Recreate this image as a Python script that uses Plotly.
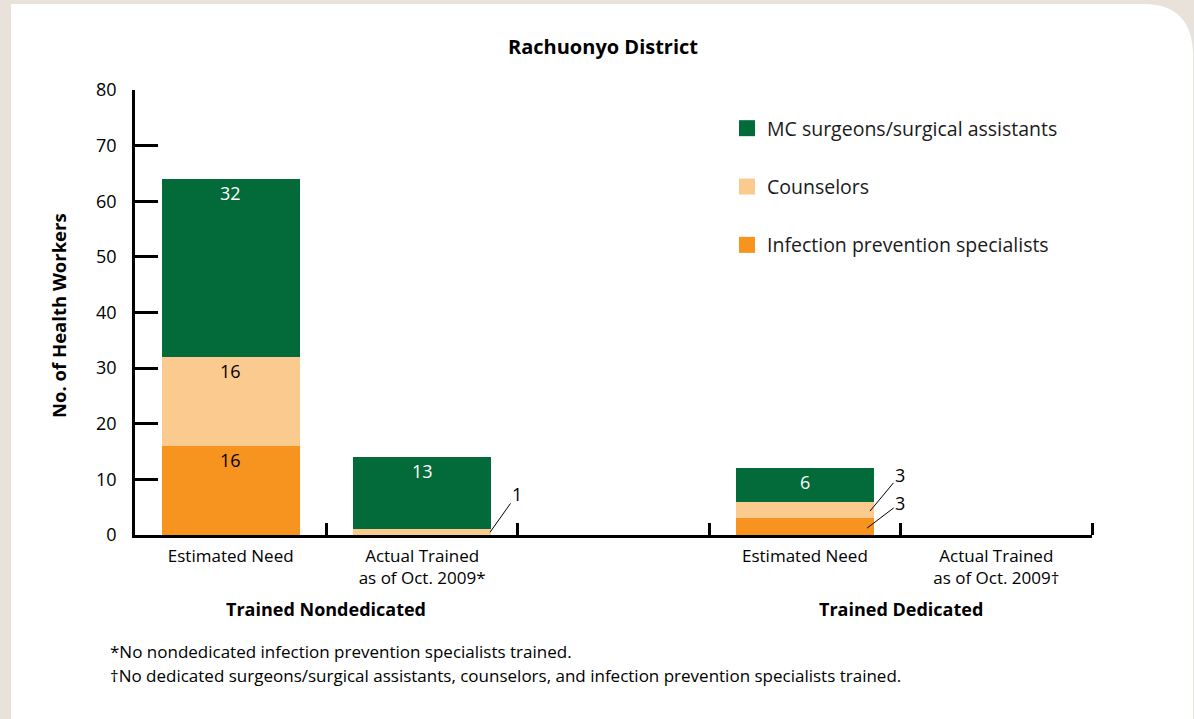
import plotly.graph_objects as go

# ---------------- data ----------------
categories = ["Estimated Need", "Actual Trained<br>as of Oct. 2009*", "",
              "Estimated Need", "Actual Trained<br>as of Oct. 2009\u2020"]
x_pos = [0, 1, 2, 3, 4]
infection_prevention = [16, 0, None, 3, 0]
counselors = [16, 1, None, 3, 0]
mc_surgeons = [32, 13, None, 6, 0]
series_names = ["Infection prevention specialists", "Counselors", "MC surgeons/surgical assistants"]
group_labels = ["Trained Nondedicated", "Trained Dedicated"]
group_centers = [0.5, 3.5]
title_text = "Rachuonyo District"
y_title = "No. of Health Workers"
y_ticks = [0, 10, 20, 30, 40, 50, 60, 70, 80]
footnotes = ["*No nondedicated infection prevention specialists trained.",
             "\u2020No dedicated surgeons/surgical assistants, counselors, and infection prevention specialists trained."]

# ---------------- style ----------------
C_MC = "#036a3a"
C_CO = "#fbca8f"
C_IP = "#f6941f"
BEIGE = "#e8e2db"
FONT = "Open Sans"

W, H = 1194, 719
L, R, T, B = 135, 1092, 90, 535


def px(x):
    return (x - L) / (R - L)


def py(y):
    return (B - y) / (B - T)


fig = go.Figure()
series = [infection_prevention, counselors, mc_surgeons]
colors = [C_IP, C_CO, C_MC]
for name, vals, col in zip(series_names, series, colors):
    fig.add_trace(go.Bar(x=x_pos, y=[v if v is not None else 0 for v in vals], name=name,
                         marker=dict(color=col, line=dict(width=0)), width=0.72,
                         showlegend=False, hoverinfo="skip"))

# legend entries (square markers)
ranks = [3, 2, 1]
for i, (name, col) in enumerate(zip(series_names, colors)):
    fig.add_trace(go.Scatter(x=[None], y=[None], mode="markers", name=name,
                             marker=dict(symbol="square", size=16, color=col),
                             legendgroup=name, legendrank=ranks[i], showlegend=True))

# in-bar labels
label_colors = ["black", "black", "white"]
for xi in x_pos:
    base = 0
    for vals, lc in zip(series, label_colors):
        v = vals[xi]
        if v is None:
            continue
        top = base + v
        if v >= 5:
            fig.add_annotation(x=xi, y=top, text=str(v), showarrow=False, yanchor="middle",
                               yshift=-14, font=dict(family=FONT, size=18, color=lc))
        base = top

# leader-line labels for small segments
fig.add_annotation(x=1.355, y=0.5, text=str(counselors[1]), showarrow=True, arrowhead=0,
                   arrowwidth=1, arrowcolor="black", ax=27, ay=-38, standoff=0,
                   font=dict(family=FONT, size=18, color="black"))
fig.add_annotation(x=3.34, y=infection_prevention[3] + 1.3, text=str(counselors[3]), showarrow=True,
                   arrowhead=0, arrowwidth=1, arrowcolor="black", ax=30, ay=-36, standoff=0,
                   font=dict(family=FONT, size=18, color="black"))
fig.add_annotation(x=3.325, y=1.25, text=str(infection_prevention[3]), showarrow=True, arrowhead=0,
                   arrowwidth=1, arrowcolor="black", ax=33, ay=-25, standoff=0,
                   font=dict(family=FONT, size=18, color="black"))

# group labels
for g, c in zip(group_labels, group_centers):
    fig.add_annotation(x=c, y=py(609), yref="paper", text="<b>%s</b>" % g, showarrow=False,
                       yanchor="middle", font=dict(family=FONT, size=18, color="black"))

# footnotes
for i, t in enumerate(footnotes):
    fig.add_annotation(x=px(108), y=py(651 + 24 * i), xref="paper", yref="paper", text=t,
                       showarrow=False, xanchor="left", yanchor="middle",
                       font=dict(family=FONT, size=17, color="black"))

# title
fig.add_annotation(x=px(603), y=py(46), xref="paper", yref="paper", text="<b>%s</b>" % title_text,
                   showarrow=False, xanchor="center", yanchor="middle",
                   font=dict(family=FONT, size=20, color="black"))

# y title
fig.add_annotation(x=px(58), y=py(316), xref="paper", yref="paper", text="<b>%s</b>" % y_title,
                   showarrow=False, textangle=-90, xanchor="center", yanchor="middle",
                   font=dict(family=FONT, size=18.5, color="black"))

# white rounded panel
x0, y0, x1, y1 = px(11), py(4), px(1193), py(725)
rx, ry = 50 / (R - L), 52 / (B - T)
path = (f"M {x0},{y1} L {x0},{y0} L {x1 - rx},{y0} "
        f"Q {x1},{y0} {x1},{y0 - ry} L {x1},{y1} Z")
fig.add_shape(type="path", path=path, xref="paper", yref="paper", fillcolor="white",
              line=dict(width=0), layer="below")

fig.update_layout(
    width=W, height=H,
    margin=dict(l=L, r=W - R, t=T, b=H - B),
    paper_bgcolor=BEIGE, plot_bgcolor="rgba(0,0,0,0)",
    barmode="stack", bargap=0,
    font=dict(family=FONT, size=16, color="black"),
    legend=dict(x=px(727), y=py(109), xanchor="left", yanchor="top",
                bgcolor="rgba(0,0,0,0)", font=dict(family=FONT, size=19.5, color="#1a1a1a"),
                tracegroupgap=30, itemclick=False),
    xaxis=dict(range=[-0.5, 4.5], tickmode="array", tickvals=x_pos, ticktext=categories,
               ticks="", showline=True, linecolor="black", linewidth=2.5, showgrid=False,
               zeroline=False, ticklabelstandoff=4,
               tickfont=dict(family=FONT, size=17, color="black"),
               minor=dict(tickmode="array", tickvals=[0.5, 1.5, 2.5, 3.5, 4.5], ticks="inside",
                          ticklen=12, tickwidth=2.5, tickcolor="black", showgrid=False)),
    yaxis=dict(range=[0, 80], tickmode="array", tickvals=y_ticks, ticks="inside", ticklen=23,
               tickwidth=2.5, tickcolor="black", showline=True, linecolor="black", linewidth=2.5,
               showgrid=False, zeroline=False, ticklabelstandoff=12,
               tickfont=dict(family=FONT, size=18, color="black")),
)

fig.write_html("out.html", config={"displayModeBar": False},
               post_script="document.body.style.margin='0';")
